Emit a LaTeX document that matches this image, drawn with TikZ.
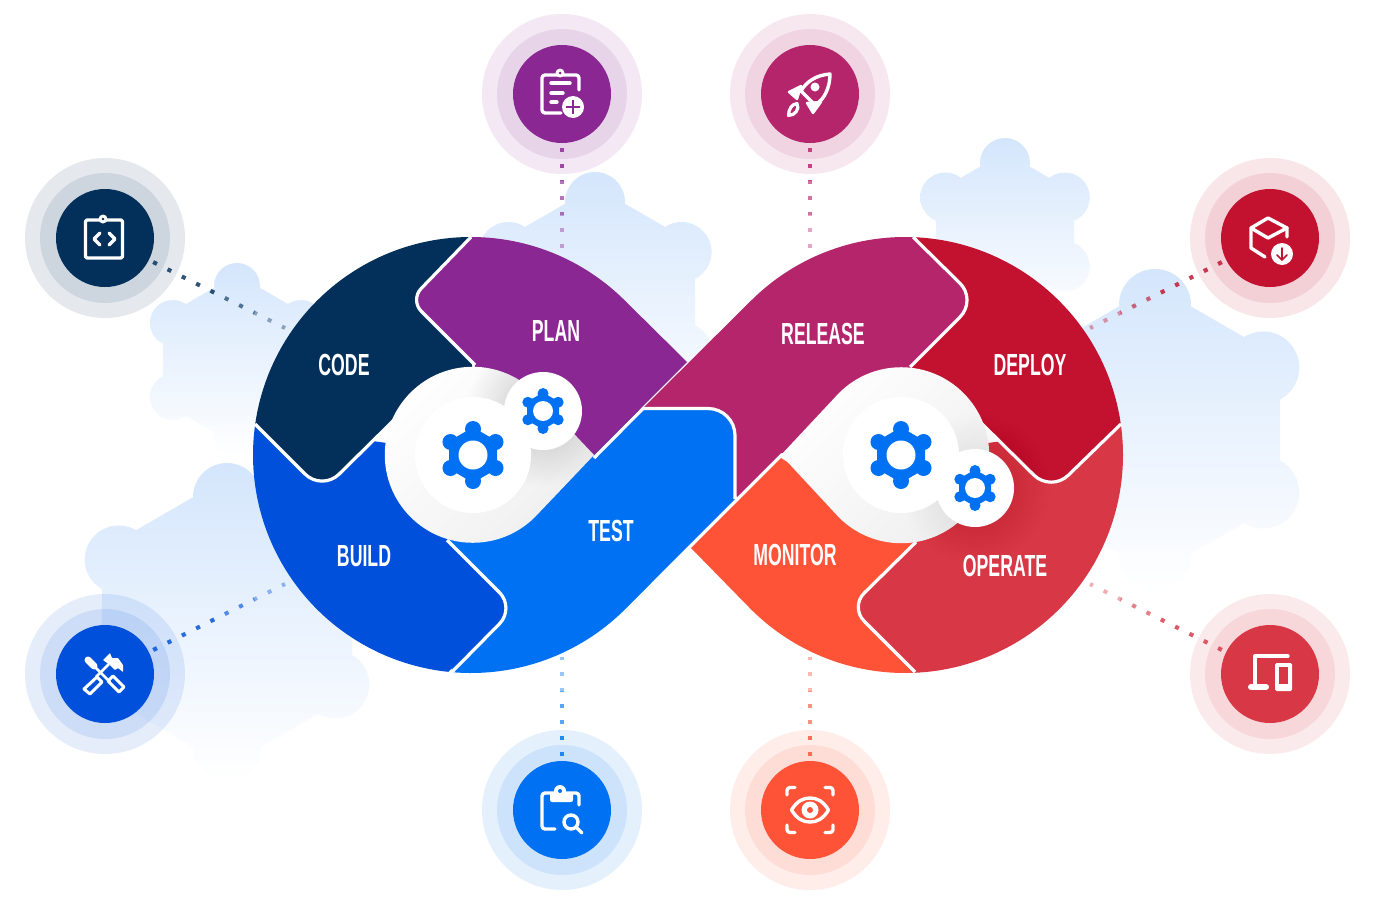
\documentclass[tikz,border=0pt]{standalone}
\usepackage{fontspec}
\newfontfamily\lab[FakeStretch=0.58]{Liberation Sans}
\usetikzlibrary{calc}
\definecolor{ccode}{HTML}{02305A}
\definecolor{cplan}{HTML}{8A2792}
\definecolor{cbuild}{HTML}{0050DC}
\definecolor{ctest}{HTML}{0071F2}
\definecolor{crelease}{HTML}{B5256C}
\definecolor{cdeploy}{HTML}{C2122F}
\definecolor{coperate}{HTML}{D83745}
\definecolor{cmonitor}{HTML}{FF5338}
\definecolor{gearblue}{HTML}{D4E6FC}
\definecolor{holegray}{HTML}{EFEFEF}
\newcommand\pL[1]{({471+218*cos(#1)},{455+218*sin(#1)})}
\newcommand\pR[1]{({905+218*cos(#1)},{455+218*sin(#1)})}
\newcommand\rc[4]{-- ($(#2)!#4pt!(#1)$) .. controls ($(#2)!{.448*#4pt}!(#1)$) and ($(#2)!{.448*#4pt}!(#3)$) .. ($(#2)!#4pt!(#3)$)}
% gear outline: hexagon with apothem #5, tooth circles of radius #4 at distance #3
\newcommand\hv[4]{({#1+#3/.866*cos(#4)},{#2+#3/.866*sin(#4)})}
\newcommand\gearpath[5]{\hv{#1}{#2}{#5}{330} -- \hv{#1}{#2}{#5}{270} -- \hv{#1}{#2}{#5}{210} -- \hv{#1}{#2}{#5}{150} -- \hv{#1}{#2}{#5}{90} -- \hv{#1}{#2}{#5}{30} -- cycle foreach \a in {30,90,150,210,270,330}{ ({#1+#3*cos(\a)},{#2+#3*sin(\a)}) circle[radius=#4pt] }}
\newcommand\bggear[4]{\shade[top color=gearblue,middle color=gearblue!18!white,bottom color=white] \gearpath{#1}{#2}{#3}{#4}{#3};}
\newcommand\cog[6]{\fill[ctest] \gearpath{#1}{#2}{#3}{#4}{#5}; \fill[white] (#1,#2) circle[radius=#6pt];}
\newcommand\badge[4]{\fill[#4,opacity=.1] (#2,#3) circle[radius=80pt]; \fill[#4,opacity=.1] (#2,#3) circle[radius=65pt]; \node[core,fill=#4] (#1) at (#2,#3) {};}
\newcommand\dotlink[3]{\draw[dotline,#1,opacity=.4] (#2) -- (#3); \draw[dotline,#1,opacity=.4,shorten >=34pt] (#2) -- (#3); \draw[dotline,#1,opacity=.5,shorten >=68pt] (#2) -- (#3);}
\newcommand\softshadow[3]{\foreach \r in {42,45,...,75}{\fill[black,opacity=#3] (#1,#2) circle[radius=\r pt];}}
\tikzset{
  core/.style={circle,minimum size=98pt,inner sep=0pt,outer sep=5pt},
  dotline/.style={line width=4pt,dash pattern=on 4pt off 12pt},
  wline/.style={draw=white,line width=3.2pt},
  steplabel/.style={text=white,font=\lab\bfseries\fontsize{30.5}{30}\selectfont,inner sep=0pt},
  ico/.style={draw=white,line width=3.4pt,line cap=round,line join=round},
}
\begin{document}
\begin{tikzpicture}[x=1pt,y=-1pt]
\useasboundingbox (0,0) rectangle (1380,900);
\fill[white] (0,0) rectangle (1380,900);
% background gears
\bggear{237}{360}{74}{23}
\bggear{227}{622}{125}{34}
\bggear{595}{302}{100}{30}
\bggear{1005}{232}{69}{25}
\bggear{1155}{430}{125}{36}
% badges
\badge{plan}{562}{94}{cplan}
\badge{release}{810}{94}{crelease}
\badge{test}{562}{810}{ctest}
\badge{monitor}{810}{810}{cmonitor}
\badge{code}{105}{238}{ccode}
\badge{build}{105}{674}{cbuild}
\badge{deploy}{1270}{238}{cdeploy}
\badge{operate}{1270}{674}{coperate}
% connector ends
\coordinate (planend) at (562,248.5);
\coordinate (releaseend) at (810,248.5);
\coordinate (testend) at (562,657);
\coordinate (monitorend) at (810,657);
\coordinate (codeend) at (285,328);
\coordinate (buildend) at (285,584);
\coordinate (deployend) at (1090,328);
\coordinate (operateend) at (1090,584);
\dotlink{cplan}{plan}{planend}
\dotlink{crelease}{release}{releaseend}
\dotlink{ctest}{test}{testend}
\dotlink{cmonitor}{monitor}{monitorend}
\dotlink{ccode}{code}{codeend}
\dotlink{cbuild}{build}{buildend}
\dotlink{cdeploy}{deploy}{deployend}
\dotlink{coperate}{operate}{operateend}
% right loop pieces
\fill[cmonitor] (691,548) -- \pR{135} arc[start angle=135,end angle=88,radius=218] -- (915,543) -- (781,458) -- cycle;
\fill[coperate] \pR{88} arc[start angle=88,end angle=-8,radius=218] -- (901,455) -- (916,542) \rc{916,542}{850,607}{915,672}{20} -- cycle;
\draw[wline] (916,542) \rc{916,542}{850,607}{915,672}{20} -- (915,672);
\fill[cdeploy] \pR{-88} arc[start angle=-88,end angle=-8,radius=218] \rc{1121,424}{1051,492}{975,417}{24} -- (975,417) -- (901,455) -- (910,367) -- cycle;
\draw[wline] (1121,424) \rc{1121,424}{1051,492}{975,417}{24} -- (975,417);
\fill[crelease] \pR{225} arc[start angle=225,end angle=272,radius=218] \rc{913,237}{977,300}{910,367}{24} -- (910,367) -- (901,455) -- (781,453) -- (737,497) -- (690,450) -- (643,408) -- cycle;
\draw[wline] (913,237) \rc{913,237}{977,300}{910,367}{24} -- (910,367);
% left loop pieces
\fill[ctest] \pL{95} arc[start angle=95,end angle=45,radius=218] -- (735,499) \rc{735,499}{735,408.5}{643,408.5}{27} -- (643,408.5) -- (473,455) -- (447,540) -- cycle;
\draw[wline] (735,499) \rc{735,499}{735,408.5}{643,408.5}{27} -- (643,408.5) -- (594,458);
\fill[cbuild] \pL{96} arc[start angle=96,end angle=188,radius=218] -- (473,455) -- (447,540) \rc{447,540}{515,608}{452,672}{22} -- cycle;
\draw[wline] (447,540) \rc{447,540}{515,608}{452,672}{22} -- (452,672);
\fill[ccode] \pL{188} arc[start angle=188,end angle=270,radius=218] -- (473,455) -- (398,416) \rc{398,416}{322,491}{255,424}{24} -- cycle;
\draw[wline] (398,416) \rc{398,416}{322,491}{255,424}{24} -- (255,424);
\fill[cplan] \pL{270} arc[start angle=270,end angle=315,radius=218] -- (687,362) -- (594,455) -- (473,455) -- (475,365) \rc{475,365}{410,300}{471,237}{16} -- cycle;
\draw[wline] (475,365) \rc{475,365}{410,300}{471,237}{16} -- (471,237);
% left hole
\shade[top color=white,middle color=white,bottom color=holegray,shading angle=45] (535,517) arc[start angle=45,end angle=315,radius=88] -- (594,455) -- cycle;
\begin{scope}
\clip (535,517) arc[start angle=45,end angle=315,radius=88] -- (594,455) -- cycle;
\softshadow{543}{411}{.006}
\end{scope}
\fill[white] (473,455) circle[radius=58pt];
\cog{473}{455}{26}{8}{24}{14.5}
\fill[white] (543,411) circle[radius=39pt];
\cog{543}{411}{17.5}{5.5}{16}{10}
% right hole
\shade[top color=white,middle color=white,bottom color=holegray,shading angle=45] (839,393) arc[start angle=225,end angle=495,radius=88] -- (781,455) -- cycle;
\softshadow{975}{488}{.004}
\fill[white] (901,455) circle[radius=58pt];
\cog{901}{455}{26}{8}{24}{14.5}
\fill[white] (975,488) circle[radius=39pt];
\cog{975}{488}{17.5}{5.5}{16}{10}
% labels
\node[steplabel] (lcode) at (344,365) {CODE};
\node[steplabel] (lplan) at (556,331) {PLAN};
\node[steplabel] (lbuild) at (364,556) {BUILD};
\node[steplabel] (ltest) at (611,531) {TEST};
\node[steplabel] (lrelease) at (823,334) {RELEASE};
\node[steplabel] (ldeploy) at (1030,365) {DEPLOY};
\node[steplabel] (lmonitor) at (795,555) {MONITOR};
\node[steplabel] (loperate) at (1005,566) {OPERATE};
% icon: plan
\draw[ico] (561,113) -- (545,113) arc[start angle=90,end angle=180,radius=3] -- (542,78) arc[start angle=180,end angle=270,radius=3] -- (576,75) arc[start angle=270,end angle=360,radius=3] -- (579,90);
\fill[white] (560,73) circle[radius=4.5pt];
\fill[cplan] (560,73) circle[radius=1.5pt];
\draw[ico] (551,83) -- (570,83) (551,93) -- (563,93) (551,102) -- (557,102);
\fill[white] (573,107) circle[radius=11pt];
\draw[cplan,line width=1.6pt] (566,107) -- (580,107) (573,100) -- (573,114);
% icon: release
\draw[ico] (830,74) .. controls (816,75) and (806,82) .. (801,91) -- (815,105) .. controls (824,100) and (830,88) .. cycle;
\fill[white] (815,87) circle[radius=4.5pt];
\draw[ico,fill=white,line width=2.4pt] (801,86) -- (789,92) -- (797,99) -- cycle;
\draw[ico,fill=white,line width=2.4pt] (821,102) -- (813,113) -- (807,103) -- cycle;
\draw[ico,line width=3.2pt] (788.5,115.5) .. controls (788.5,109) and (792,104) .. (797,103.5) .. controls (800,109) and (795,115.5) .. cycle;
% icon: test
\draw[ico] (555,829) -- (545,829) arc[start angle=90,end angle=180,radius=3] -- (542,796) arc[start angle=180,end angle=270,radius=3] -- (576,793) arc[start angle=270,end angle=360,radius=3] -- (579,805);
\fill[white,rounded corners=2pt] (550,792) rectangle (573,802);
\fill[white] (560,791) circle[radius=6pt];
\fill[ctest] (560,791) circle[radius=2pt];
\draw[ico] (571,822) circle[radius=7pt] (576,827) -- (582,833);
% icon: monitor
\draw[ico] (787,795) -- (787,790.5) arc[start angle=180,end angle=270,radius=3] -- (795,787.5);
\draw[ico] (825,787.5) -- (830,787.5) arc[start angle=270,end angle=360,radius=3] -- (833,795);
\draw[ico] (787,825) -- (787,829.5) arc[start angle=180,end angle=90,radius=3] -- (795,832.5);
\draw[ico] (825,832.5) -- (830,832.5) arc[start angle=90,end angle=0,radius=3] -- (833,825);
\draw[ico] (791.5,810) .. controls (797,801) and (803,798) .. (810,798) .. controls (817,798) and (823,801) .. (828.5,810) .. controls (823,819) and (817,822) .. (810,822) .. controls (803,822) and (797,819) .. cycle;
\fill[white] (810,810) circle[radius=8.5pt];
\fill[cmonitor] (810,810) circle[radius=3pt];
% icon: code
\draw[ico,rounded corners=1.5pt] (85.5,220) rectangle (122.5,258);
\fill[white] (103,219) circle[radius=4.5pt];
\fill[ccode] (103,219) circle[radius=1.4pt];
\draw[ico] (100,233) -- (94,239) -- (100,245) (109,233) -- (115,239) -- (109,245);
% icon: build
\draw[white,line width=7pt,line cap=round] (88,660) -- (94,666);
\draw[white,line width=2.8pt] (94,666) -- (110,682);
\draw[ico,line width=3pt] (108,681) -- (113,676) -- (124,687) -- (119,692) -- cycle;
\draw[white,line width=2.8pt] (109,664) -- (96,677);
\draw[ico,line width=3pt] (97,677) -- (102,682) -- (90,694) -- (84,689) -- cycle;
\fill[white,rounded corners=.6pt] (103,660) -- (110,653) -- (112,658) -- (118,658) -- (123,665) -- (123,672) -- (118,668) -- (115,670) -- (110,665) -- cycle;
% icon: deploy
\draw[ico] (1265,257) -- (1251,248) -- (1251,228) -- (1268,218) -- (1287,228) -- (1287,237);
\draw[ico] (1251,228) -- (1268,238) -- (1287,228);
\fill[white] (1282,254) circle[radius=11pt];
\draw[cdeploy,line width=1.7pt,line cap=round,line join=round] (1282,248) -- (1282,260) (1277,255) -- (1282,260) -- (1287,255);
% icon: operate
\draw[ico] (1288,656) -- (1255,656) -- (1255,687);
\draw[white,line width=6pt,line cap=round] (1251,687) -- (1266,687);
\fill[white,rounded corners=1.5pt] (1275,663) rectangle (1292,691);
\fill[coperate] (1279,667) rectangle (1288,684);
\end{tikzpicture}
\end{document}
